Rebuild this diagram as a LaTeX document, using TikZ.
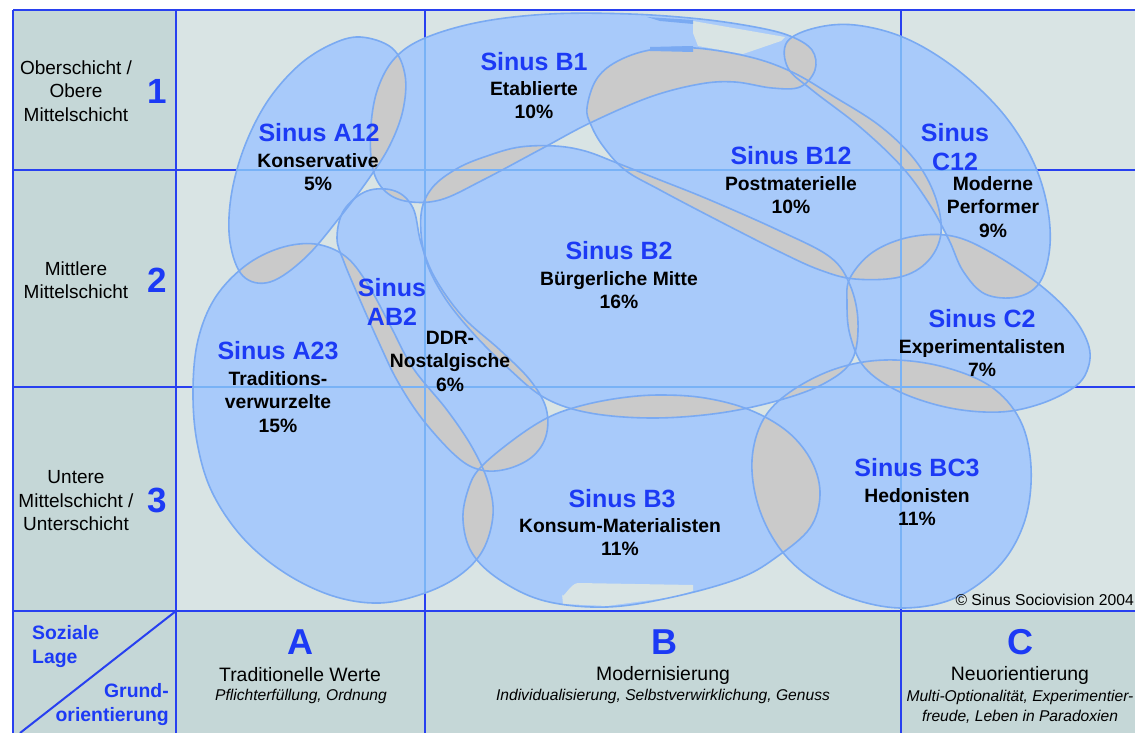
\documentclass[tikz,border=0pt]{standalone}
\usepackage{fontspec}
\setmainfont{Liberation Sans}
\definecolor{cLab}{RGB}{28,58,245}
\definecolor{cGrid}{RGB}{40,64,240}
\definecolor{cGridSoft}{RGB}{120,178,246}
\definecolor{cBlob}{RGB}{168,202,250}
\definecolor{cEdge}{RGB}{122,170,242}
\definecolor{cGrey}{RGB}{202,202,202}
\definecolor{cMain}{RGB}{217,228,228}
\definecolor{cDark}{RGB}{197,215,215}
\newcommand\defblob[2]{\expandafter\def\csname blob#1\endcsname{plot[smooth cycle,tension=0.6] coordinates {#2}}}
\newcommand\useblob[2]{\expandafter\useblobaux\csname blob#2\endcsname{#1}}
\newcommand\useblobaux[2]{\path[#2] #1;}
\newcommand\clipblob[1]{\expandafter\clipblobaux\csname blob#1\endcsname}
\newcommand\clipblobaux[1]{\clip #1;}
% 1 A12, 2 B1, 3 B12, 4 C12, 5 B2, 6 AB2, 7 A23, 8 C2, 9 BC3, 10 B3
\defblob{1}{(360,37) (392,48) (405,75) (403,110) (390,145) (370,177) (340,217) (305,258) (270,282) (243,276) (230,242) (231,197) (244,148) (267,102) (298,66) (330,45)}
\defblob{2}{(372,165) (371,125) (378,88) (395,58) (425,38) (480,22) (550,14) (630,14) (700,19) (755,27) (790,36) (812,50) (815,70) (800,87) (772,88) (735,82) (700,84) (650,97) (590,123) (543,148) (483,180) (440,200) (405,201) (383,189)}
\defblob{3}{(587,108) (596,80) (616,62) (650,50) (695,48) (750,57) (792,72) (833,96) (880,126) (915,160) (935,196) (941,233) (928,261) (900,277) (855,279) (820,270) (780,252) (717,220) (660,190) (625,170) (603,146) (591,125)}
\defblob{4}{(787,42) (815,28) (855,25) (905,38) (955,68) (1000,110) (1030,155) (1046,200) (1050,245) (1040,282) (1017,297) (985,294) (963,271) (949,240) (930,205) (902,167) (860,127) (812,90) (788,68)}
\defblob{5}{(421,215) (432,188) (458,168) (490,155) (520,147) (555,146) (585,151) (617,163) (660,180) (710,200) (780,231) (830,257) (850,285) (858,322) (852,360) (825,383) (780,400) (720,413) (653,418) (590,413) (545,398) (508,368) (472,332) (443,295) (425,257)}
\defblob{6}{(367,191) (395,191) (413,208) (421,243) (435,278) (463,317) (500,350) (530,380) (546,408) (546,436) (532,457) (507,469) (481,470) (457,457) (423,420) (398,382) (380,345) (360,300) (344,262) (337,238) (344,210)}
\defblob{7}{(193,390) (198,340) (215,298) (245,266) (280,248) (315,244) (345,256) (367,283) (390,325) (413,368) (447,410) (472,447) (488,482) (493,515) (483,550) (460,575) (425,593) (380,603) (333,596) (285,573) (243,538) (212,492) (197,442)}
\defblob{8}{(850,278) (873,252) (910,237) (952,236) (992,253) (1040,285) (1073,317) (1089,347) (1087,371) (1073,388) (1040,404) (1000,412) (950,408) (900,392) (865,368) (850,335) (847,303)}
\defblob{9}{(752,460) (763,420) (790,392) (835,369) (885,360) (940,366) (990,386) (1020,420) (1031,467) (1025,520) (1000,565) (955,598) (902,608) (850,598) (808,576) (778,546) (758,505)}
\defblob{10}{(480,468) (513,440) (547,418) (580,406) (620,398) (660,395) (705,398) (750,410) (788,432) (812,462) (820,495) (810,528) (778,556) (740,578) (673,597) (607,607) (545,601) (500,580) (472,553) (463,520) (468,490)}
\begin{document}
\begin{tikzpicture}[x=1pt,y=-1pt,
  gridline/.style={draw=cGrid,line width=2pt},
  gridsoft/.style={draw=cGridSoft,line width=1.4pt},
  blobshape/.style={fill=cBlob},
  blobedge/.style={draw=cEdge,line width=1.6pt},
  overlap/.style={fill=cGrey},
  title/.style={font=\bfseries\fontsize{25}{29}\selectfont,text=cLab,align=center,inner sep=0pt},
  detail/.style={font=\bfseries\fontsize{19.3}{23.5}\selectfont,align=center,inner sep=0pt},
  rowlab/.style={font=\fontsize{19}{23.5}\selectfont,align=center,inner sep=0pt},
  rownum/.style={font=\bfseries\fontsize{35}{40}\selectfont,text=cLab,inner sep=0pt},
  collet/.style={font=\bfseries\fontsize{36}{40}\selectfont,text=cLab,inner sep=0pt},
  colname/.style={font=\fontsize{19.4}{23}\selectfont,inner sep=0pt},
  coldesc/.style={font=\itshape\fontsize{15.6}{20}\selectfont,align=center,inner sep=0pt},
  axislab/.style={font=\bfseries\fontsize{19.4}{24}\selectfont,text=cLab,inner sep=0pt},
  copy/.style={font=\fontsize{15.7}{18}\selectfont,inner sep=0pt}]
\useasboundingbox (0,0) rectangle (1135,733);
\fill[white] (0,0) rectangle (1135,733);
\fill[cDark] (13,10) rectangle (1135,733);
\fill[cMain] (176,10) rectangle (1135,611);
% grid
\coordinate (tl) at (13,10);
\coordinate (tr) at (1135,10);
\coordinate (bl) at (13,733);
\coordinate (corner) at (176,611);
\coordinate (diagend) at (20,733);
\draw[gridline] (tl) -- (tr);
\draw[gridline] (tl) -- (bl);
\draw[gridline] (176,10) -- (176,733);
\draw[gridline] (425,10) -- (425,733);
\draw[gridline] (901,10) -- (901,733);
\draw[gridline] (13,170) -- (1135,170);
\draw[gridline] (13,387) -- (1135,387);
\draw[gridline] (13,611) -- (1135,611);
\draw[gridline] (corner) -- (diagend);
% blobs
\foreach \i in {1,...,10}{\useblob{blobshape}{\i}}
\foreach \i in {1,...,9}{%
  \pgfmathtruncatemacro\ip{\i+1}%
  \foreach \j in {\ip,...,10}{%
    \begin{scope}\clipblob{\i}\useblob{overlap}{\j}\end{scope}}}
% artefacts of the original
\fill[cMain] (693,21) -- (785,37) -- (781,41) -- (743,54) -- (698,46) -- (693,33) -- cycle;
\fill[cEdge] (647,17) -- (693,20) -- (693,24) -- (660,21) -- cycle;
\fill[cEdge] (650,47) -- (693,46) -- (693,52) -- (650,51) -- cycle;
\fill[cMain] (563,604) -- (562,594) to[out=-90,in=180] (578,583) -- (693,585) -- (693,591) -- (673,597) -- (607,606) -- cycle;
\foreach \i in {1,...,10}{%
  \begin{scope}\clipblob{\i}
  \draw[gridsoft] (425,10) -- (425,611) (901,10) -- (901,611) (176,170) -- (1135,170) (176,387) -- (1135,387);
  \end{scope}}
\foreach \i in {1,...,10}{\useblob{blobedge}{\i}}
% blob labels
\node[title] (tA12) at (319,133) {Sinus A12};
\node[detail] (dA12) at (318,172) {Konservative\\5\%};
\node[title] (tB1) at (534,62) {Sinus B1};
\node[detail] (dB1) at (534,100) {Etablierte\\10\%};
\node[title] (tB12) at (791,156) {Sinus B12};
\node[detail] (dB12) at (791,195) {Postmaterielle\\10\%};
\node[title] (tC12) at (955,147) {Sinus\\C12};
\node[detail] (dC12) at (993,207) {Moderne\\Performer\\9\%};
\node[title] (tB2) at (619,251) {Sinus B2};
\node[detail] (dB2) at (619,290) {Bürgerliche Mitte\\16\%};
\node[title] (tAB2) at (392,302) {Sinus\\AB2};
\node[detail] (dAB2) at (450,361) {DDR-\\Nostalgische\\6\%};
\node[title] (tA23) at (278,351) {Sinus A23};
\node[detail] (dA23) at (278,402) {Traditions-\\verwurzelte\\15\%};
\node[title] (tC2) at (982,319) {Sinus C2};
\node[detail] (dC2) at (982,358) {Experimentalisten\\7\%};
\node[title] (tBC3) at (917,468) {Sinus BC3};
\node[detail] (dBC3) at (917,507) {Hedonisten\\11\%};
\node[title] (tB3) at (622,499) {Sinus B3};
\node[detail] (dB3) at (620,537) {Konsum-Materialisten\\11\%};
% row labels
\node[rowlab] (r1) at (76,91) {Oberschicht /\\Obere\\Mittelschicht};
\node[rownum] (n1) at (157,91) {1};
\node[rowlab] (r2) at (76,280) {Mittlere\\Mittelschicht};
\node[rownum] (n2) at (157,280) {2};
\node[rowlab] (r3) at (76,501) {Untere\\Mittelschicht /\\Unterschicht};
\node[rownum] (n3) at (157,500) {3};
% corner
\node[axislab,anchor=west,align=left] (soz) at (32,647) {Soziale\\Lage};
\node[axislab,anchor=east,align=right] (grund) at (169,705) {Grund-\\orientierung};
% columns
\node[collet] (cA) at (300,642) {A};
\node[colname] (nA) at (300,675) {Traditionelle Werte};
\node[coldesc] (eA) at (301,696) {Pflichterfüllung, Ordnung};
\node[collet] (cB) at (664,642) {B};
\node[colname] (nB) at (663,675) {Modernisierung};
\node[coldesc] (eB) at (663,696) {Individualisierung, Selbstverwirklichung, Genuss};
\node[collet] (cC) at (1020,642) {C};
\node[colname] (nC) at (1020,675) {Neuorientierung};
\node[coldesc] (eC) at (1020,707) {Multi-Optionalität, Experimentier-\\freude, Leben in Paradoxien};
\node[copy,anchor=east] (copyr) at (1134,600) {© Sinus Sociovision 2004};
\end{tikzpicture}
\end{document}
